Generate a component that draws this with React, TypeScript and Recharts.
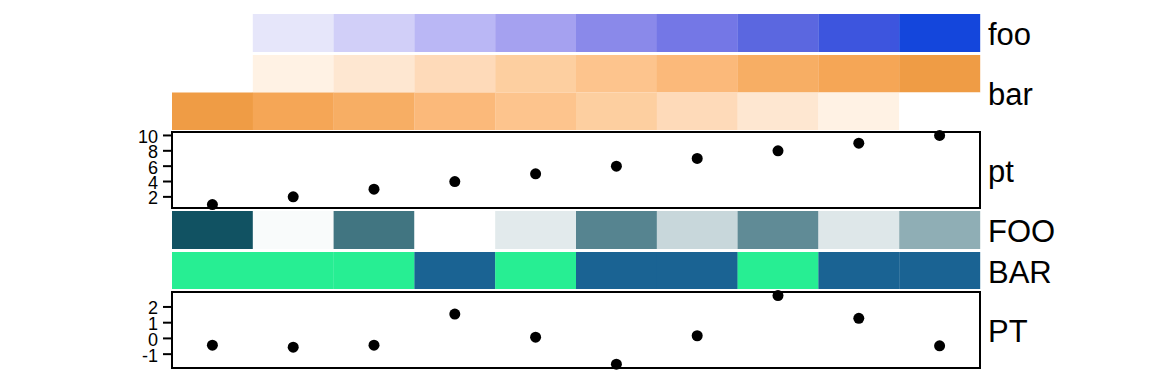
import React from 'react';
import { BarChart, Bar, Cell, XAxis, YAxis, ScatterChart, Scatter, ReferenceArea } from 'recharts';

// ten columns of the annotation
const columns = ['c1', 'c2', 'c3', 'c4', 'c5', 'c6', 'c7', 'c8', 'c9', 'c10'];

// upper block
const fooValues = [1, 2, 3, 4, 5, 6, 7, 8, 9, 10];
const barUpValues = [1, 2, 3, 4, 5, 6, 7, 8, 9, 10];
const barDownValues = [10, 9, 8, 7, 6, 5, 4, 3, 2, 1];
const ptValues = [1, 2, 3, 4, 5, 6, 7, 8, 9, 10];
const ptTicks = [2, 4, 6, 8, 10];

// lower block
const FOOValues = [1.0, 0.025, 0.8, 0, 0.12, 0.71, 0.23, 0.67, 0.14, 0.47];
const BARValues = ['a', 'a', 'a', 'b', 'a', 'b', 'b', 'a', 'b', 'b'];
const PTValues = [-0.43, -0.56, -0.43, 1.55, 0.08, -1.64, 0.17, 2.72, 1.28, -0.47];
const PTTicks = [-1, 0, 1, 2];

// colour scales
const FOO_PALETTE = ['#FFFFFF', '#E6E6FA', '#D1CFF8', '#BAB7F5', '#A5A1F0', '#8A89EA', '#7477E6', '#5B67E0', '#3D55DE', '#1446DC'];
const BAR_PALETTE = ['#FFFFFF', '#FFF2E4', '#FEE7D1', '#FEDAB9', '#FDCFA0', '#FDC48D', '#FBB97A', '#F7AE64', '#F5A656', '#EF9C45'];
const FOO_LOW = [255, 255, 255];
const FOO_HIGH = [17, 82, 98];
const BAR_COLORS: Record<string, string> = { a: '#27EE93', b: '#1A6393' };

const W = 1152;
const SIDE = 172;
const FONT = '"Liberation Sans", Arial, Helvetica, sans-serif';

const ramp = (t: number) => {
  const c = FOO_LOW.map((lo, i) => Math.round(lo + (FOO_HIGH[i] - lo) * t));
  return `rgb(${c[0]},${c[1]},${c[2]})`;
};

const HeatRows = ({ top, height, rows }: { top: number; height: number; rows: string[][] }) => {
  const data = columns.map((col) => {
    const d: any = { col };
    rows.forEach((_, r) => (d[`r${r}`] = 1));
    return d;
  });
  return (
    <div style={{ position: 'absolute', left: 0, top }}>
      <BarChart width={W} height={height} data={data} margin={{ top: 0, right: SIDE, bottom: 0, left: SIDE }}
        barCategoryGap={0} barGap={0}>
        <XAxis dataKey="col" hide />
        <YAxis hide domain={[0, rows.length]} reversed />
        {rows.map((colors, r) => (
          <Bar key={r} dataKey={`r${r}`} stackId="s" isAnimationActive={false}>
            {colors.map((c, i) => (
              <Cell key={i} fill={c} />
            ))}
          </Bar>
        ))}
      </BarChart>
    </div>
  );
};

const Dot = (p: any) => <circle cx={p.cx} cy={p.cy} r={5.5} fill="#000" />;

const PointPanel = ({ top, height, values, domain, ticks }: { top: number; height: number; values: number[]; domain: [number, number]; ticks: number[] }) => {
  const data = values.map((y, i) => ({ x: i + 0.5, y }));
  const pad = 8;
  return (
    <div style={{ position: 'absolute', left: 0, top: top - pad }}>
      <ScatterChart width={W} height={height + pad * 2} margin={{ top: pad, right: SIDE, bottom: pad, left: SIDE - 60 }}>
        <XAxis type="number" dataKey="x" domain={[0, 10]} hide />
        <YAxis type="number" dataKey="y" domain={domain} ticks={ticks} width={60} interval={0}
          axisLine={false} tickSize={9} tickMargin={5}
          tickLine={{ stroke: '#000', strokeWidth: 2 }}
          tick={{ fill: '#000', fontSize: 18, fontFamily: FONT, dy: 1 }} />
        <ReferenceArea x1={0} x2={10} y1={domain[0]} y2={domain[1]} fill="none" stroke="#000" strokeWidth={2} fillOpacity={0} />
        <Scatter data={data} shape={Dot} isAnimationActive={false} />
      </ScatterChart>
    </div>
  );
};

const Name = ({ top, height, text }: { top: number; height: number; text: string }) => (
  <div style={{ position: 'absolute', left: 988, top: top + 2, height, display: 'flex', alignItems: 'center', fontFamily: FONT, fontSize: 31, color: '#000', whiteSpace: 'nowrap' }}>
    {text}
  </div>
);

export default function App() {
  return (
    <div style={{ position: 'absolute', left: 0, top: 0, width: W, height: 383, background: '#fff', overflow: 'hidden' }}>
      <HeatRows top={14} height={38} rows={[fooValues.map((v) => FOO_PALETTE[v - 1])]} />
      <HeatRows top={55} height={75} rows={[barUpValues.map((v) => BAR_PALETTE[v - 1]), barDownValues.map((v) => BAR_PALETTE[v - 1])]} />
      <PointPanel top={132} height={76} values={ptValues} domain={[0.55, 10.45]} ticks={ptTicks} />
      <HeatRows top={211} height={38} rows={[FOOValues.map(ramp)]} />
      <HeatRows top={252} height={37} rows={[BARValues.map((v) => BAR_COLORS[v])]} />
      <PointPanel top={292} height={76} values={PTValues} domain={[-1.88, 2.95]} ticks={PTTicks} />
      <Name top={14} height={38} text="foo" />
      <Name top={55} height={75} text="bar" />
      <Name top={132} height={76} text="pt" />
      <Name top={211} height={38} text="FOO" />
      <Name top={252} height={37} text="BAR" />
      <Name top={292} height={76} text="PT" />
    </div>
  );
}
